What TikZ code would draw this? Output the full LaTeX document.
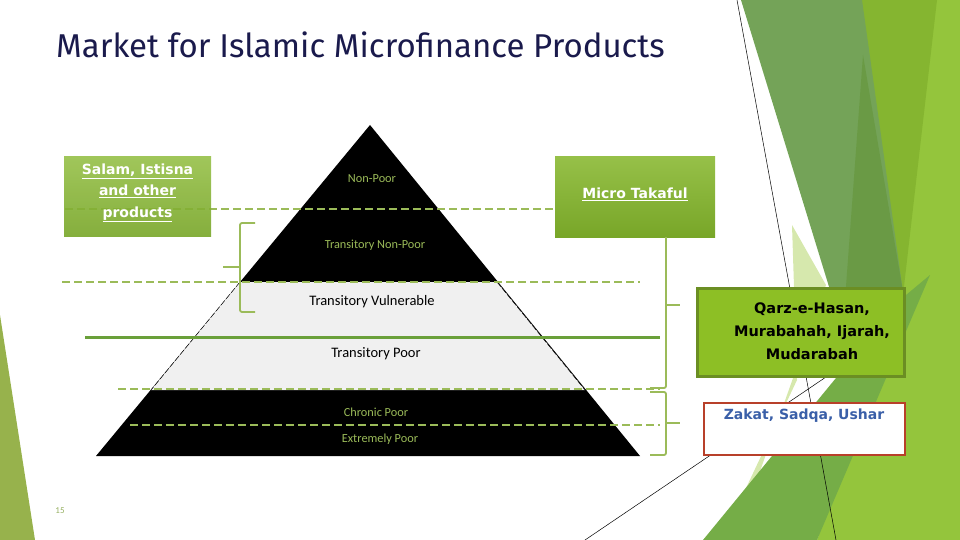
\documentclass[tikz,border=0pt]{standalone}
\usepackage{fontspec}
\setmainfont{Carlito}
\newfontfamily\titlefont{Fira Sans}
\newfontfamily\boxfont{DejaVu Sans}
\usetikzlibrary{positioning}
\definecolor{titleNavy}{RGB}{26, 26, 76}
\definecolor{lineGreen}{RGB}{155, 187, 89}
\definecolor{solidGreen}{RGB}{106, 160, 58}
\definecolor{boxTop}{RGB}{150, 192, 72}
\definecolor{boxBottom}{RGB}{120, 166, 40}
\definecolor{qarzFill}{RGB}{141, 191, 37}
\definecolor{qarzEdge}{RGB}{107, 142, 35}
\definecolor{zakatEdge}{RGB}{184, 64, 42}
\definecolor{zakatBlue}{RGB}{58, 95, 168}
\definecolor{bandGray}{RGB}{240, 240, 240}
\definecolor{facetDark}{RGB}{106, 154, 69}
\definecolor{facetSoft}{RGB}{116, 163, 88}
\definecolor{facetMid}{RGB}{117, 173, 71}
\definecolor{facetLime}{RGB}{148, 197, 60}
\definecolor{facetLimeDk}{RGB}{133, 181, 48}
\definecolor{facetPale}{RGB}{214, 232, 173}

\begin{document}
\begin{tikzpicture}[x=1pt, y=-1pt,
  level/.style={font=\fontsize{12.3}{14}\selectfont, text=lineGreen},
  levelDark/.style={font=\fontsize{14.5}{16}\selectfont, text=black},
  greenbox/.style={top color=boxTop, bottom color=boxBottom, inner sep=0pt},
  boxtext/.style={font=\boxfont\bfseries\fontsize{14}{21.5}\selectfont, align=center},
  cut/.style={lineGreen, line width=2pt, dash pattern=on 8pt off 4pt},
  brace/.style={lineGreen, line width=1.8pt, rounded corners=2pt}
]
  \useasboundingbox (0,0) rectangle (960,540);

  % Facet background
  \fill[facetLime] (860,0) -- (960,0) -- (960,540) -- (817,540) -- (902,300) -- cycle;
  \fill[facetLimeDk] (860,0) -- (937,0) -- (903,295) -- cycle;
  \fill[facetPale] (792,225) -- (826,285) -- (748,505) -- (738,505) -- (797,380) -- cycle;
  \fill[facetSoft] (741,0) -- (862,0) -- (903,292) -- (878,392) -- (830,290) -- cycle;
  \fill[facetDark] (863,55) -- (903,292) -- (878,392) -- (845,300) -- cycle;
  \fill[facetMid] (703,540) -- (817,540) -- (930,275) -- (900,300) -- cycle;
  \fill[lineGreen!85!olive] (0,315) -- (35,540) -- (0,540) -- cycle;
  \coordinate (ra) at (737,0);
  \coordinate (rb) at (836,540);
  \coordinate (rc) at (826,377);
  \coordinate (rd) at (585,540);
  \draw[black, line width=0.5pt] (ra) -- (rb);
  \draw[black, line width=0.5pt] (rc) -- (rd);

  % Title
  \node[anchor=base west, inner sep=0pt, text=titleNavy, font=\titlefont\fontsize{33}{36}\selectfont] (title) at (56,58) {Market for Islamic Microfinance Products};

  % Pyramid
  \coordinate (apex) at (370,125);
  \fill[black] (apex) -- (96,456) -- (640,456) -- cycle;
  \fill[bandGray] (240,282) -- (497,282) -- (585,390) -- (151,390) -- cycle;
  \draw[black, line width=0.5pt, dash pattern=on 6pt off 2pt] (240,282) -- (151,390);
  \draw[black, line width=0.5pt, dash pattern=on 6pt off 2pt] (497,282) -- (585,390);

  \node[level] (nonpoor) at (372,179) {Non-Poor};
  \node[level] (transnon) at (375,245) {Transitory Non-Poor};
  \node[levelDark] (vulnerable) at (372,302) {Transitory Vulnerable};
  \node[levelDark] (transpoor) at (376,354) {Transitory Poor};
  \node[level] (chronic) at (376,412) {Chronic Poor};
  \node[level] (extreme) at (380,439) {Extremely Poor};

  % Cut lines
  \draw[cut] (65,209) -- (555,209);
  \draw[cut] (62,282) -- (640,282);
  \draw[solidGreen, line width=3pt] (85,337) -- (660,337);
  \draw[cut] (118,389) -- (660,389);
  \draw[cut] (130,425) -- (660,425);

  % Product boxes
  \node[greenbox, fill opacity=0.9, minimum width=147pt, minimum height=79pt] (salam) at (137.5,196.5) {};
  \node[boxtext, text=white] (salamtext) at (137.5,193) {\underline{Salam, Istisna}\\\underline{and other}\\\underline{products}};
  \node[greenbox, minimum width=160pt, minimum height=80pt] (takaful) at (635,197) {};
  \node[boxtext, text=white] (takafultext) at (635,194) {\underline{Micro Takaful}};
  \node[fill=qarzFill, draw=qarzEdge, line width=3pt, minimum width=207pt, minimum height=88pt] (qarz) at (801,332.5) {};
  \node[boxtext, text=black, font=\boxfont\bfseries\fontsize{14.5}{23}\selectfont] (qarztext) at (812,331) {Qarz-e-Hasan,\\Murabahah, Ijarah,\\Mudarabah};
  \node[fill=white, draw=zakatEdge, line width=2.5pt, minimum width=201pt, minimum height=52pt] (zakat) at (804.5,429) {};
  \node[boxtext, text=zakatBlue] (zakattext) at (804,416) {Zakat, Sadqa, Ushar};

  % Brackets
  \draw[brace] (255,223) -- (240,223) -- (240,312) -- (255,312);
  \draw[brace] (240,267) -- (223,267);
  \draw[brace] (takaful.south -| 666,0) -- (666,388) -- (650,388);
  \draw[brace] (666,305) -- (680,305);
  \draw[brace] (650,392) -- (666,392) -- (666,455) -- (650,455);
  \draw[brace] (666,423) -- (680,423);

  \node[text=lineGreen!80!gray, font=\fontsize{9}{10}\selectfont] (page) at (60,511) {15};
\end{tikzpicture}
\end{document}
